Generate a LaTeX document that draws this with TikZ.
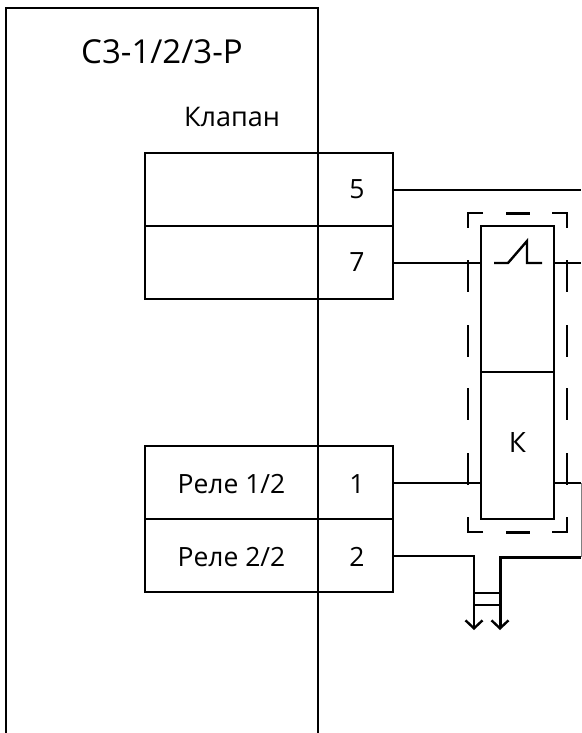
\documentclass[tikz,border=0pt]{standalone}
\usepackage{fontspec}
\setmainfont{Open Sans}
\usetikzlibrary{arrows.meta, positioning}
\newcommand{\lowtext}[1]{\rule{0pt}{22pt}#1}
\newcommand{\hightext}[1]{\rule[-6pt]{0pt}{6pt}#1}

\begin{document}
\begin{tikzpicture}[
		x=1pt, y=-1pt,
		node distance=0pt,
		wire/.style={line width=2.4pt},
		cell/.style={rectangle, draw, line width=2.4pt, outer sep=0pt, minimum height=73pt, minimum width=173pt, inner sep=0pt, font=\fontsize{26.5}{30}\selectfont},
		term/.style={cell, minimum width=75pt},
		relay/.style={rectangle, draw, line width=2.4pt, outer sep=0pt, minimum width=73pt, inner sep=0pt, font=\fontsize{28}{30}\selectfont},
		dashpart/.style={line width=2.4pt},
		ground/.style={line width=2.4pt, -{Straight Barb[length=8pt, width=17pt, line width=2.4pt]}}
		]
		\useasboundingbox (0,0) rectangle (581,733);
		
		% Unit outline
		\coordinate (unitbl) at (6,733);
		\coordinate (unitbr) at (318,733);
		\draw[wire] (unitbl) |- (318,8) -- (unitbr);
		\node[font=\fontsize{33}{36}\selectfont] (unitname) at (162,52) {С3-1/2/3-Р};
		\node[font=\fontsize{27}{30}\selectfont] (valvename) at (232,117) {Клапан};
		
		% Terminals
		\node[cell] (valvea) at (231.5,189.5) {};
		\node[cell] (valveb) [below=of valvea] {};
		\node[term] (t5) [right=of valvea] {\hspace*{3pt}5};
		\node[term] (t7) [right=of valveb] {\hspace*{3pt}7};
		\node[cell] (rela) at (231.5,482.5) {\lowtext{Реле 1/2}};
		\node[cell] (relb) [below=of rela] {\lowtext{Реле 2/2}};
		\node[term] (t1) [right=of rela] {\hspace*{3pt}\lowtext{1}};
		\node[term] (t2) [right=of relb] {\hspace*{3pt}\lowtext{2}};
		
		% Relay
		\node[relay, minimum height=146pt] (contact) at (517.5,299) {};
		\node[relay, minimum height=147pt] (coil) [below=of contact] {\hightext{К}};
		\draw[wire] (494,263) -- (508,263) -- (527,241) -- (527,263) -- (542,263);
		
		% Relay enclosure
		\draw[dashpart] (483,213) -| (468,228);
		\draw[dashpart] (552,213) -| (567,228);
		\draw[dashpart] (483,532) -| (468,517);
		\draw[dashpart] (552,532) -| (567,517);
		\draw[line width=3pt] (506,213) -- (530,213);
		\draw[line width=3pt] (506,532) -- (530,532);
		\foreach \y in {260,325,388,453} {
			\draw[dashpart] (468,\y) -- (468,\y+32);
			\draw[dashpart] (567,\y) -- (567,\y+32);
		}
		
		% Wires
		\coordinate (outa) at (581,190);
		\coordinate (outb) at (581,263);
		\coordinate (outc) at (581,483);
		\coordinate (gnda) at (474,630);
		\coordinate (gndb) at (500,630);
		\coordinate (tapa) at (474,556);
		\draw[wire] (t5.east |- outa) -- (outa);
		\draw[wire] (t7.east |- outb) -- (contact.west |- outb);
		\draw[wire] (contact.east |- outb) -- (outb);
		\draw[wire] (t1.east |- outc) -- (coil.west |- outc);
		\draw[wire] (coil.east |- outc) -- (outc);
		\draw[ground] (t2.east |- tapa) -| (gnda);
		\draw[line width=1pt, gray] (outc) -- (581,557);
		\draw[ground, line width=3pt] (581,557) -| (gndb);
		\draw[wire] (474,593) -- (500,593);
		\draw[wire] (474,605) -- (500,605);
	\end{tikzpicture}
\end{document}
